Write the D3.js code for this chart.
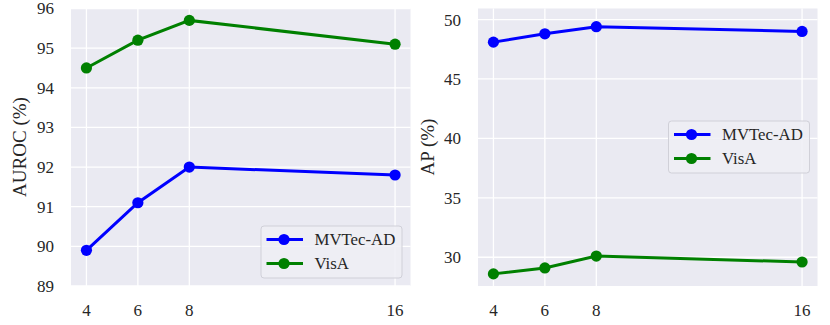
<!DOCTYPE html>
<html>
<head>
<meta charset="utf-8">
<script src="https://cdn.jsdelivr.net/npm/d3@7"></script>
<style>
  body { margin: 0; background: #fff; }
</style>
</head>
<body>
<svg id="canvas" width="830" height="325" font-family="'Liberation Serif', 'Times New Roman', Times, serif"></svg>
<script>
let shots = [4, 6, 8, 16]
let seriesNames = ['MVTec-AD', 'VisA']
let seriesColors = ['#0000ff', '#008000']

let aurocMvtec = [89.9, 91.1, 92.0, 91.8]
let aurocVisa = [94.5, 95.2, 95.7, 95.1]
let apMvtec = [48.1, 48.8, 49.4, 49.0]
let apVisa = [28.6, 29.1, 30.1, 29.6]

let aurocTicks = [89, 90, 91, 92, 93, 94, 95, 96]
let apTicks = [30, 35, 40, 45, 50]

let canvas = d3.select('#canvas')

let drawPanel = (opts) => {
  let g = canvas.append('g')
  let x = d3.scaleLinear().domain([3.4, 16.6]).range([opts.left, opts.right])
  let y = d3.scaleLinear().domain(opts.yDomain).range([286, 8.5])

  g.append('rect')
   .attr('x', opts.left).attr('y', 8.5)
   .attr('width', opts.right - opts.left).attr('height', 286 - 8.5)
   .attr('fill', '#eaeaf2')

  // grid
  g.selectAll('.vgrid').data(shots).enter().append('line')
   .attr('x1', d => x(d)).attr('x2', d => x(d))
   .attr('y1', 8.5).attr('y2', 286)
   .attr('stroke', '#fff').attr('stroke-width', 1.3)
  g.selectAll('.hgrid').data(opts.ticks).enter().append('line')
   .attr('x1', opts.left).attr('x2', opts.right)
   .attr('y1', d => y(d)).attr('y2', d => y(d))
   .attr('stroke', '#fff').attr('stroke-width', 1.3)

  // tick labels
  g.selectAll('.xt').data(shots).enter().append('text')
   .attr('x', d => x(d)).attr('y', 316)
   .attr('text-anchor', 'middle').attr('font-size', 17)
   .attr('fill', '#262626')
   .text(d => d)
  g.selectAll('.yt').data(opts.ticks).enter().append('text')
   .attr('x', opts.left - 17).attr('y', d => y(d))
   .attr('dy', '0.35em')
   .attr('text-anchor', 'end').attr('font-size', 17)
   .attr('fill', '#262626')
   .text(d => d)

  g.append('text')
   .attr('transform', `translate(${opts.labelX},147) rotate(-90)`)
   .attr('text-anchor', 'middle').attr('dy', '0.35em').attr('font-size', 19)
   .attr('fill', '#262626')
   .text(opts.label)

  let line = d3.line().x((d, i) => x(shots[i])).y(d => y(d))
  opts.series.forEach((vals, k) => {
    g.append('path').datum(vals)
     .attr('d', line).attr('fill', 'none')
     .attr('stroke', seriesColors[k]).attr('stroke-width', 3)
    g.selectAll('.pt' + k).data(vals).enter().append('circle')
     .attr('cx', (d, i) => x(shots[i])).attr('cy', d => y(d))
     .attr('r', 5.6).attr('fill', seriesColors[k])
  })

  // legend
  let lg = opts.legend
  g.append('rect')
   .attr('x', lg.x).attr('y', lg.y).attr('width', 141).attr('height', 52)
   .attr('rx', 3).attr('fill', '#eeeef4').attr('fill-opacity', 0.85)
   .attr('stroke', '#d0d0d8').attr('stroke-width', 1)
  seriesNames.forEach((name, k) => {
    let ry = lg.y + 13.5 + k * 24
    g.append('line')
     .attr('x1', lg.x + 5.5).attr('x2', lg.x + 42)
     .attr('y1', ry).attr('y2', ry)
     .attr('stroke', seriesColors[k]).attr('stroke-width', 3)
    g.append('circle')
     .attr('cx', lg.x + 23).attr('cy', ry).attr('r', 5.6)
     .attr('fill', seriesColors[k])
    g.append('text')
     .attr('x', lg.x + 53.5).attr('y', ry).attr('dy', '0.35em')
     .attr('font-size', 16.8)
     .attr('fill', '#262626')
     .text(name)
  })
}

drawPanel({
  left: 71, right: 410.5, yDomain: [89, 96], ticks: aurocTicks,
  label: 'AUROC (%)', labelX: 19,
  series: [aurocMvtec, aurocVisa],
  legend: { x: 261, y: 226 }
})

drawPanel({
  left: 478, right: 817.5, yDomain: [27.58, 50.93], ticks: apTicks,
  label: 'AP (%)', labelX: 427,
  series: [apMvtec, apVisa],
  legend: { x: 668.5, y: 121 }
})
</script>
</body>
</html>
